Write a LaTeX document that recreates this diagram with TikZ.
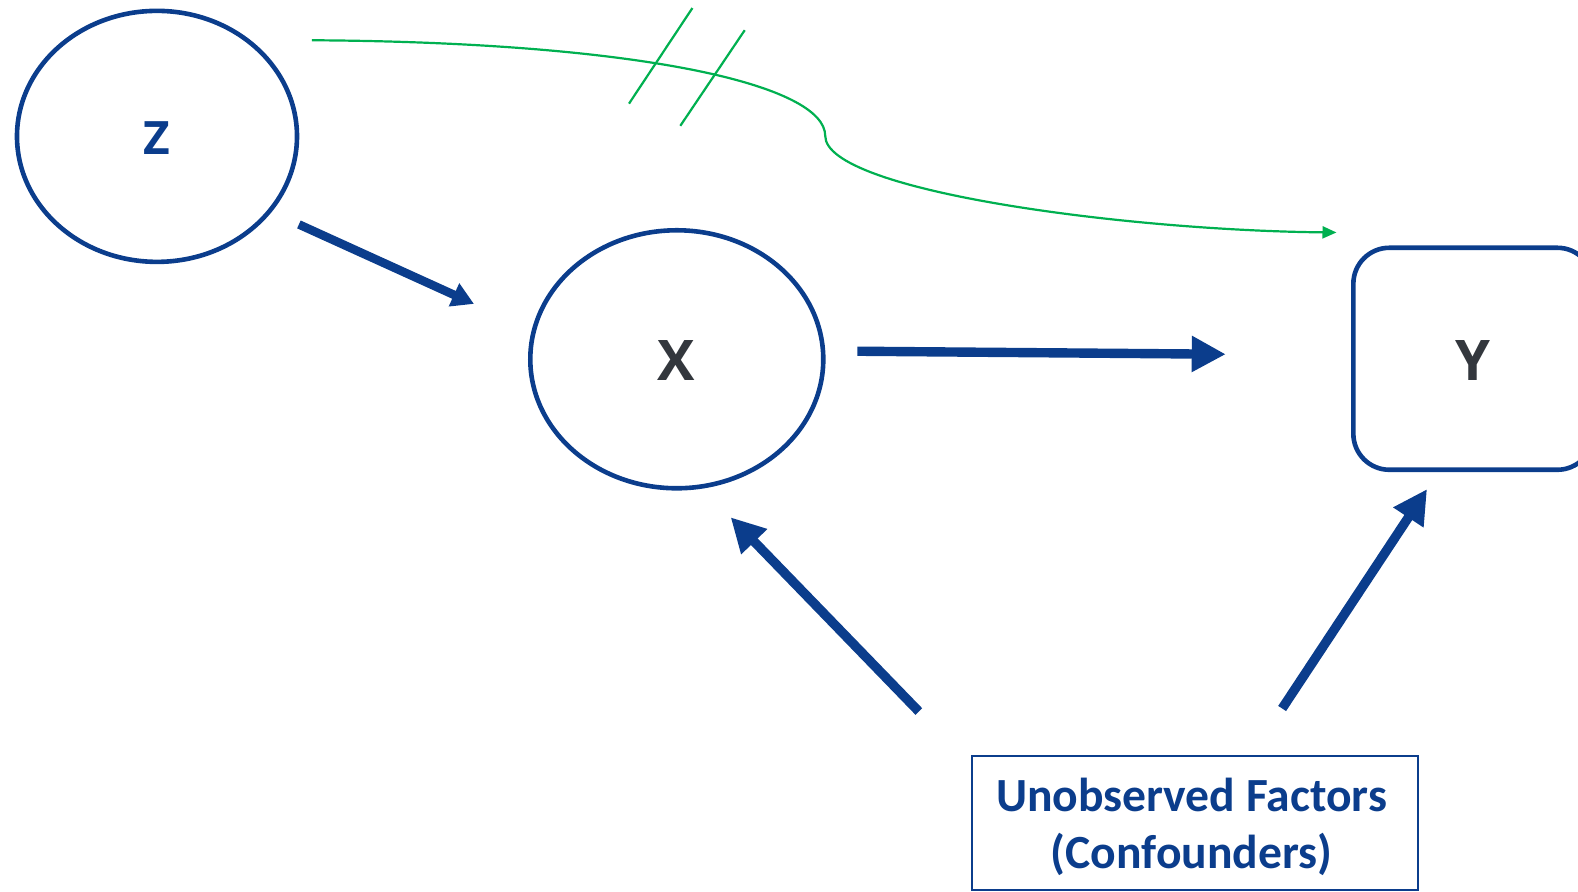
\documentclass[tikz,border=0pt]{standalone}
\usepackage{fontspec}
\setmainfont{Carlito}
\newfontfamily\labfont{Open Sans}
\usetikzlibrary{arrows.meta,shapes.geometric}
\definecolor{dblue}{HTML}{0B3D8C}
\definecolor{dgray}{HTML}{33373D}
\definecolor{cgreen}{HTML}{00B050}
\tikzset{
  ellnode/.style={ellipse,draw=dblue,line width=2.3pt,inner sep=0pt},
  bigarrow/.style={draw=dblue,line width=4.7pt,-{Triangle[length=17pt,width=17pt]}},
  midarrow/.style={draw=dblue,line width=4.3pt,-{Triangle[length=11pt,width=12pt]}},
  greenline/.style={draw=cgreen,line width=1.1pt},
  lab/.style={font=\labfont\bfseries\fontsize{#1}{#1}\selectfont},
}
\begin{document}
\begin{tikzpicture}[x=0.50319pt,y=-0.50319pt]
\useasboundingbox (0,0) rectangle (1568,886);
\clip (0,0) rectangle (1568,886);
\node[ellnode,minimum width=140pt,minimum height=125.5pt] (Z) at (156,135.5) {};
\node[text=dblue,lab=23pt] (Zl) at (156,137) {Z};
\node[ellnode,minimum width=146.5pt,minimum height=129pt] (X) at (672.5,357) {};
\node[text=dgray,lab=28pt] (Xl) at (672,358) {X};
\node[draw=dblue,line width=2.3pt,rounded corners=18pt,minimum width=120pt,minimum height=111pt] (Y) at (1464,356.5) {};
\node[text=dgray,lab=28pt] (Yl) at (1464,358) {Y};
\node[draw=dblue,line width=1pt,minimum width=223pt,minimum height=67pt] (U) at (1187.5,818) {};
\node[align=center,text=dblue,font=\bfseries\fontsize{23.8pt}{28.5pt}\selectfont] (Ut) at (1184,822) {Unobserved Factors\\(Confounders)};
% arrow ends
\coordinate (zx1) at (297,223);
\coordinate (zx2) at (471,302);
\coordinate (xy1) at (852,349);
\coordinate (xy2) at (1218,352);
\coordinate (ux1) at (913,707);
\coordinate (ux2) at (726,514);
\coordinate (uy1) at (1274,704);
\coordinate (uy2) at (1418,486);
\coordinate (g1) at (310,40);
\coordinate (gm) at (820,135);
\coordinate (g2) at (1328,231);
\draw[midarrow] (zx1) -- (zx2);
\draw[bigarrow] (xy1) -- (xy2);
\draw[bigarrow] (ux1) -- (ux2);
\draw[bigarrow] (uy1) -- (uy2);
\draw[greenline,-{Triangle[length=7pt,width=6pt]}] (g1) .. controls (640,42) and (820,85) .. (gm) .. controls (820,190) and (1120,229) .. (g2);
\coordinate (s1a) at (625,103);
\coordinate (s1b) at (688,8);
\coordinate (s2a) at (676,125);
\coordinate (s2b) at (740,30);
\draw[greenline] (s1a) -- (s1b);
\draw[greenline] (s2a) -- (s2b);
\end{tikzpicture}
\end{document}
